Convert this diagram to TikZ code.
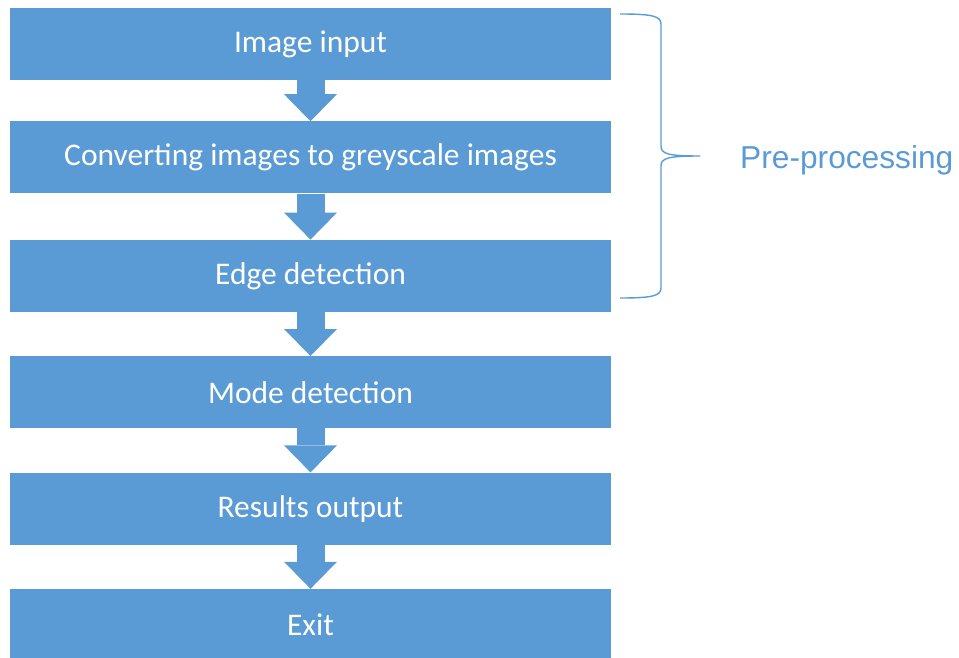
\documentclass[tikz,border=0pt]{standalone}
\usepackage{fontspec}
\setmainfont{Carlito}
\newfontfamily\labelfont{Liberation Sans}
\usetikzlibrary{arrows.meta, positioning}
\definecolor{boxblue}{HTML}{5B9BD5}

\begin{document}
\begin{tikzpicture}[
    x=1pt, y=-1pt,
    stepbox/.style={
        rectangle, fill=boxblue, text=white,
        minimum width=601pt, minimum height=72pt,
        inner sep=0pt,
        font=\fontsize{31.5}{38}\selectfont
    },
    flow/.style={boxblue, line width=28pt,
        -{Triangle[width=53pt, length=27pt, line width=0pt]}},
    brace/.style={boxblue, line width=1.4pt, line join=round},
]
\useasboundingbox (0,0) rectangle (959,658);

% --- processing steps ---
\node[stepbox] (img) at (310.5, 44) {Image input};
\node[stepbox, below=41pt of img] (grey) {Converting images to greyscale images};
\node[stepbox, below=46pt of grey] (edge) {Edge detection};
\node[stepbox, below=44pt of edge] (mode) {Mode detection};
\node[stepbox, below=44pt of mode] (res) {Results output};
\node[stepbox, below=44pt of res] (exit) {Exit};

% --- block arrows ---
\draw[flow] (img.south) -- (grey.north);
\draw[flow] (grey.south) -- (edge.north);
\draw[flow] (edge.south) -- (mode.north);
\draw[flow] (mode.south) -- (res.north);
\draw[flow] (res.south) -- (exit.north);

% --- brace round the first three steps ---
\coordinate (bTop) at (620, 14);
\coordinate (bTip) at (700, 156);
\coordinate (bBot) at (620, 298);
\draw[brace] (bTop) .. controls (652,14) and (661,16) .. (661,24)
    -- (661,146) .. controls (661,154) and (668,156) .. (bTip)
    .. controls (668,156) and (661,158) .. (661,166)
    -- (661,288) .. controls (661,296) and (652,298) .. (bBot);

\node[text=boxblue, font=\labelfont\fontsize{31.7}{38}\selectfont,
    right=40pt of bTip, yshift=-4pt, inner sep=0pt] (pre) {Pre-processing};

\end{tikzpicture}
\end{document}
